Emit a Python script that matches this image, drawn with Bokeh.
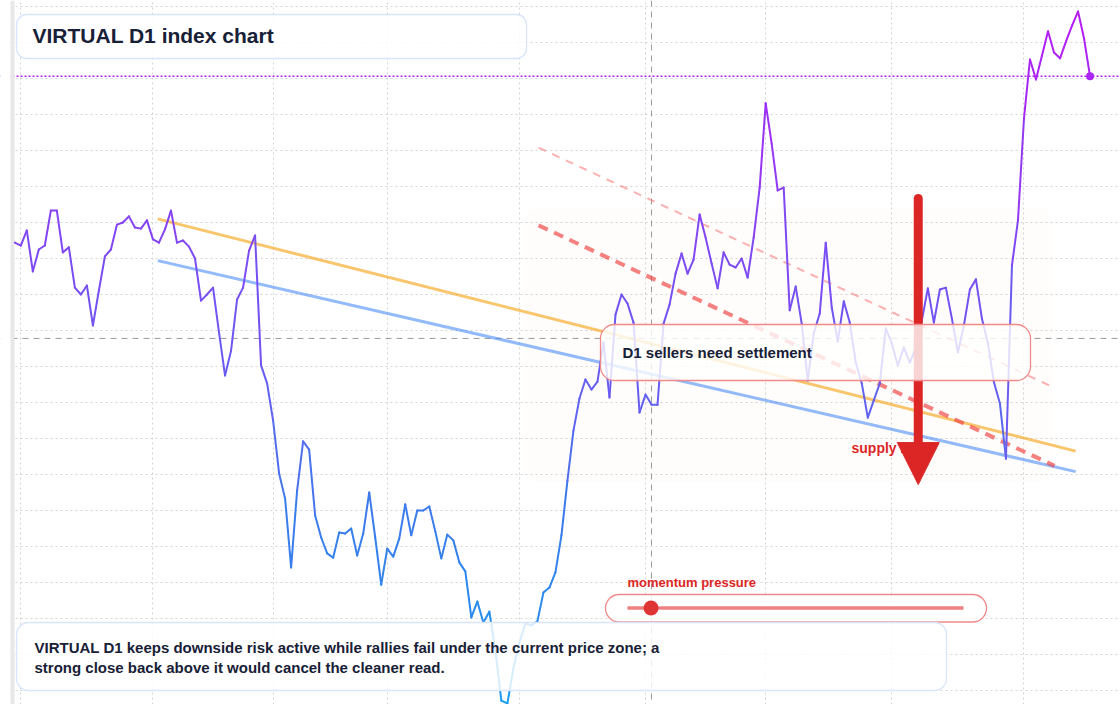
import numpy as np
from bokeh.plotting import figure
from bokeh.models import (Range1d, Grid, FixedTicker, BoxAnnotation, Span, Label,
                          Arrow, NormalHead)
from bokeh.embed import file_html
from bokeh.resources import INLINE

# daily closes of the VIRTUAL D1 index (one value per bar)
close = [
    1.844, 1.836, 1.878, 1.764, 1.825, 1.836, 1.933, 1.933, 1.817, 1.831,
    1.719, 1.700, 1.725, 1.614, 1.711, 1.806, 1.825, 1.894, 1.900, 1.917,
    1.886, 1.883, 1.906, 1.853, 1.844, 1.881, 1.933, 1.844, 1.850, 1.833,
    1.800, 1.683, 1.700, 1.719, 1.594, 1.475, 1.544, 1.686, 1.719, 1.822,
    1.864, 1.503, 1.453, 1.350, 1.203, 1.133, 0.942, 1.156, 1.292, 1.269,
    1.086, 1.025, 0.981, 0.969, 1.039, 1.036, 1.050, 0.975, 1.036, 1.150,
    1.025, 0.894, 0.994, 0.972, 1.022, 1.117, 1.031, 1.100, 1.100, 1.111,
    1.042, 0.967, 1.033, 1.017, 0.956, 0.931, 0.803, 0.847, 0.789, 0.819,
    0.711, 0.572, 0.564, 0.661, 0.733, 0.786, 0.781, 0.792, 0.872, 0.886,
    0.928, 1.031, 1.183, 1.322, 1.411, 1.464, 1.436, 1.458, 1.567, 1.414,
    1.644, 1.700, 1.675, 1.622, 1.372, 1.422, 1.394, 1.394, 1.619, 1.672,
    1.758, 1.814, 1.758, 1.797, 1.922, 1.858, 1.786, 1.717, 1.817, 1.783,
    1.775, 1.800, 1.747, 1.858, 1.997, 2.231, 2.119, 1.989, 1.997, 1.656,
    1.722, 1.619, 1.461, 1.592, 1.647, 1.844, 1.664, 1.569, 1.681, 1.622,
    1.511, 1.453, 1.358, 1.406, 1.453, 1.606, 1.564, 1.503, 1.553, 1.511,
    1.553, 1.628, 1.717, 1.622, 1.714, 1.719, 1.633, 1.539, 1.614, 1.714,
    1.742, 1.633, 1.564, 1.456, 1.397, 1.244, 1.781, 1.906, 2.189, 2.353,
    2.297, 2.364, 2.431, 2.372, 2.356, 2.403, 2.447, 2.486, 2.411, 2.306,
]

# month starts (bar index) and price grid
month_ticks = [1, 23, 43, 62, 84, 105, 125, 146, 168]
price_ticks = [0.6, 0.7, 0.8, 0.9, 1.0, 1.1, 1.2, 1.3, 1.4, 1.5, 1.6, 1.7,
               1.8, 1.9, 2.0, 2.1, 2.2, 2.3, 2.4, 2.5]

# drawn levels: (bar start, bar end), (price start, price end)
upper_trend_x = [23.8, 176.6]
upper_trend_y = [1.910, 1.265]
lower_trend_x = [23.8, 176.6]
lower_trend_y = [1.794, 1.208]
channel_low_x = [87.2, 173.1]
channel_low_y = [1.892, 1.224]
channel_high_x = [87.2, 172.8]
channel_high_y = [2.108, 1.443]
zone_x = [84.8, 172.6]
zone_y = [1.178, 1.942]
arrow_x = 150.4
arrow_y = [1.967, 1.172]
cursor_bar = 106
cursor_price = 1.578
momentum = 0.07

# line colour by price level
stop_p = [0.55, 0.8, 1.1, 1.4, 1.8, 2.2, 2.5]
stop_r = [25, 40, 60, 98, 125, 160, 185]
stop_g = [160, 140, 122, 98, 74, 45, 25]
stop_b = [240, 236, 236, 240, 242, 244, 246]

RED = "#dc2626"
INK = "#172036"
FONT = "Liberation Sans"

# page pixel -> data helpers for the annotation boxes
X0, DX, Y0, PY = 14.3, 6.007, 906.0, 360.0
W, H = 1120, 704


def bx(x):
    return (x - X0) / DX


def by(y):
    return (Y0 - y) / PY


def grad(v):
    return "#%02x%02x%02x" % tuple(int(round(np.interp(v, stop_p, ch)))
                                   for ch in (stop_r, stop_g, stop_b))


def text(x, y, s, size, color=INK):
    # y is the bottom of the text box, in page pixels
    p.add_layout(Label(x=bx(x), y=by(y), text=s, text_color=color, text_font=FONT,
                       text_font_style="bold", text_font_size=size,
                       text_baseline="bottom"))


def card(x0, x1, y0, y1, line, alpha, radius):
    p.add_layout(BoxAnnotation(left=bx(x0), right=bx(x1), top=by(y0), bottom=by(y1),
                               fill_color="white", fill_alpha=alpha, line_color=line,
                               line_alpha=1, line_width=1.3, border_radius=radius))


p = figure(width=W, height=H,
           x_range=Range1d(bx(0), bx(W)), y_range=Range1d(by(H), by(0)),
           x_axis_type=None, y_axis_type=None,
           toolbar_location=None, output_backend="svg", min_border=0,
           outline_line_color=None, background_fill_color="white",
           border_fill_color="white")

for dim, ticks in ((0, month_ticks), (1, price_ticks)):
    p.add_layout(Grid(dimension=dim, ticker=FixedTicker(ticks=ticks),
                      grid_line_color="#d4d4d4", grid_line_dash="2 3",
                      grid_line_width=1))

# shaded supply zone
p.add_layout(BoxAnnotation(left=zone_x[0], right=zone_x[1], bottom=zone_y[0], top=zone_y[1],
                           fill_color="#fb923c", fill_alpha=0.02, line_alpha=0,
                           border_radius=14, level="underlay"))

# crosshair and last close
p.add_layout(Span(location=cursor_price, dimension="width", line_color="#9a9a9a",
                  line_dash="6 5", line_width=1, level="underlay"))
p.add_layout(Span(location=cursor_bar, dimension="height", line_color="#9a9a9a",
                  line_dash="6 5", line_width=1, level="underlay"))
p.add_layout(Span(location=close[-1], dimension="width", line_color="#b51ff4",
                  line_dash="2 2", line_width=1.5, level="underlay"))

# left rail
p.add_layout(BoxAnnotation(right=bx(10), fill_color="white", fill_alpha=1,
                           line_alpha=0, level="underlay"))
p.add_layout(BoxAnnotation(left=bx(10), right=bx(14), fill_color="#e8e8e8", fill_alpha=1,
                           line_alpha=0, level="underlay"))

# trend lines
p.line(upper_trend_x, upper_trend_y, line_color="#f59e0b", line_alpha=0.6, line_width=3)
p.line(lower_trend_x, lower_trend_y, line_color="#3b82f6", line_alpha=0.55, line_width=3)
p.line(channel_high_x, channel_high_y, line_color="#f87171", line_alpha=0.55,
       line_width=2, line_dash="8 7")
p.line(channel_low_x, channel_low_y, line_color="#ef4444", line_alpha=0.68,
       line_width=4, line_dash="10 7")

# price line, coloured by level
c = np.array(close)
bars = np.arange(len(close))
colors = [grad(v) for v in (c[:-1] + c[1:]) / 2]
p.segment(x0=bars[:-1], y0=c[:-1], x1=bars[1:], y1=c[1:], line_color=colors,
          line_width=2, line_cap="round")
p.scatter([bars[-1]], [close[-1]], size=8, fill_color=grad(close[-1]), line_color=None)

text(851, 455.3, "supply zone", "14px", RED)

# sell arrow: rounded shaft, then head
p.add_layout(Arrow(end=None, x_start=arrow_x, y_start=arrow_y[0], x_end=arrow_x,
                   y_end=by(462), line_color=RED, line_width=9, line_cap="round"))
p.add_layout(Arrow(end=NormalHead(size=42, fill_color=RED, line_color=RED, line_width=1),
                   x_start=arrow_x, y_start=by(450), x_end=arrow_x, y_end=arrow_y[1],
                   line_alpha=0))

# callout
card(600, 1030, 324, 380, "#f08a8a", 0.8, 14)
text(622, 360.3, "D1 sellers need settlement", "15px")

# title
card(16, 526, 14, 58, "#d8e5fb", 0.85, 10)
text(32, 46.3, "VIRTUAL D1 index chart", "21px")

# momentum gauge
text(627, 589.7, "momentum pressure", "13px", RED)
card(605, 986, 594, 621.5, "#f08a8a", 0.85, 14)
track = [bx(627), bx(963)]
track_y = by(607.5)
p.segment(x0=[track[0]], y0=[track_y], x1=[track[1]], y1=[track_y],
          line_color="#f08080", line_width=3.5, level="overlay")
p.scatter([track[0] + momentum * (track[1] - track[0])], [track_y], size=15,
          fill_color="#e03535", line_color=None, level="overlay")

# summary note
card(16, 946, 622, 690, "#d8e5fb", 0.82, 12)
note = ["VIRTUAL D1 keeps downside risk active while rallies fail under the current price zone; a",
        "strong close back above it would cancel the cleaner read."]
for k, line in enumerate(note):
    text(34, 655.7 + 20 * k, line, "15px")

open("out.html", "w").write(file_html(p, INLINE))
